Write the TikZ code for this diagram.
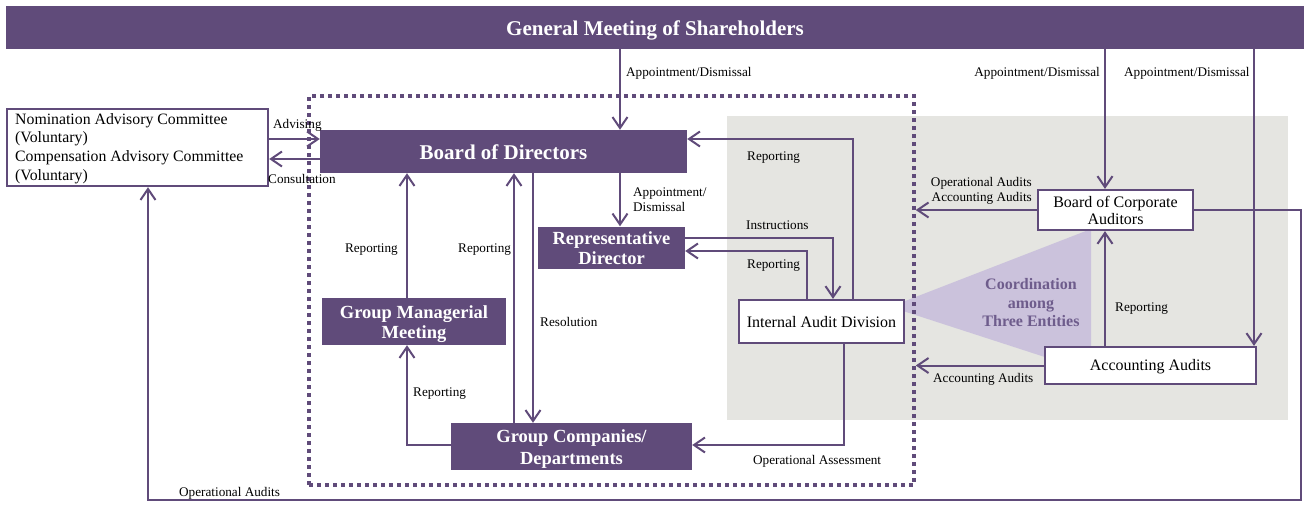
\documentclass[tikz,border=0pt]{standalone}
\usepackage{fontspec}
\setmainfont{Liberation Serif}
\usetikzlibrary{arrows.meta,calc}
\definecolor{mainp}{RGB}{96,75,122}
\definecolor{grayz}{RGB}{229,229,225}
\definecolor{trifill}{RGB}{203,194,220}
\definecolor{coordtxt}{RGB}{110,92,140}
\newcommand\fsz[2]{\fontsize{#1}{#2}\selectfont}
\begin{document}
\begin{tikzpicture}[x=1pt,y=-1pt,
 pbox/.style={fill=mainp,inner sep=0pt},
 wbox/.style={draw=mainp,line width=2.2pt,fill=white,inner sep=0pt},
 ptxt/.style={text=white,inner sep=0pt,align=center,font=\fsz{18.5}{20}\bfseries},
 wtxt/.style={inner sep=0pt,align=center,font=\fsz{16}{17.5}},
 lbl/.style={inner sep=0pt,font=\fsz{13.2}{15.5},align=left},
 conn/.style={draw=mainp,line width=2pt,-{Straight Barb[length=11pt,width=15pt,line width=2pt]}},
]
\useasboundingbox (0,0) rectangle (1304,504);

% background zone and coordination wedge
\fill[grayz] (727,116) rectangle (1288,420);
\fill[trifill] (900,303) -- (1091,229) -- (1091,372) -- (900,310) -- cycle;

% dotted frame
\node[draw=mainp,line width=3.5pt,dash pattern=on 4pt off 4pt,minimum width=605pt,minimum height=389pt,inner sep=0pt] (frame) at (611.5,290.5) {};

% boxes
\node[pbox,minimum width=1298pt,minimum height=43pt,anchor=north west] (gms) at (6,6) {};
\node[wbox,minimum width=261pt,minimum height=77pt,anchor=north west] (nom) at (6,108) {};
\node[pbox,minimum width=367pt,minimum height=43pt] (bod) at (503.5,151.5) {};
\node[pbox,minimum width=147pt,minimum height=42pt] (rep) at (611.5,247.5) {};
\node[pbox,minimum width=184pt,minimum height=47pt] (gmm) at (414,321.5) {};
\node[pbox,minimum width=241pt,minimum height=47pt] (gc) at (571.5,446.5) {};
\node[wbox,minimum width=165pt,minimum height=43pt] (iad) at (821.5,321.5) {};
\node[wbox,minimum width=155pt,minimum height=40pt] (bca) at (1115.5,210) {};
\node[wbox,minimum width=211pt,minimum height=37pt] (aa) at (1150.5,365.5) {};

% box texts
\node[ptxt,font=\fsz{21}{24}\bfseries] (gmst) at (655,30.5) {General Meeting of Shareholders};
\node[wtxt,align=left,anchor=west,font=\fsz{15.8}{18.7}] (nomt) at (15,148.5) {Nomination Advisory Committee\\(Voluntary)\\Compensation Advisory Committee\\(Voluntary)};
\node[ptxt,font=\fsz{21}{24}\bfseries] (bodt) at (503.5,152.5) {Board of Directors};
\node[ptxt] (rept) at (611.5,248.5) {Representative\\Director};
\node[ptxt] (gmmt) at (414,324.5) {Group Managerial\\Meeting};
\node[ptxt,font=\fsz{18.5}{22}\bfseries] (gct) at (571.5,449) {Group Companies/\\Departments};
\node[wtxt] (iadt) at (821.5,322.5) {Internal Audit Division};
\node[wtxt] (bcat) at (1115.5,210.5) {Board of Corporate\\Auditors};
\node[wtxt] (aat) at (1150.5,367) {Accounting Audits};
\node[align=center,inner sep=0pt,text=coordtxt,font=\fsz{16}{18.5}\bfseries] (coordn) at (1031,303) {Coordination\\among\\Three Entities};

% helper coordinates
\coordinate (c148) at (148,0);
\coordinate (c407) at (407,0);
\coordinate (c514) at (514,0);
\coordinate (c533) at (533,0);
\coordinate (c620) at (620,0);
\coordinate (c807) at (807,0);
\coordinate (c833) at (833,0);
\coordinate (c844) at (844,0);
\coordinate (c853) at (853,0);
\coordinate (c1105) at (1105,0);
\coordinate (c1254) at (1254,0);
\coordinate (y139) at (0,139);
\coordinate (y159) at (0,159);
\coordinate (y238) at (0,238);
\coordinate (y251) at (0,251);
\coordinate (y445) at (0,445);
\coordinate (corner) at (1301,500);

% connectors
\draw[conn] (gms.south -| c620) -- (bod.north -| c620);
\draw[conn] (gms.south -| c1105) -- (bca.north -| c1105);
\draw[conn] (gms.south -| c1254) -- (aa.north -| c1254);
\draw[conn] (nom.east |- y139) -- (bod.west |- y139);
\draw[conn] (bod.west |- y159) -- (nom.east |- y159);
\draw[conn] (bod.south -| c620) -- (rep.north -| c620);
\draw[conn] (gmm.north -| c407) -- (bod.south -| c407);
\draw[conn] (gc.north -| c514) -- (bod.south -| c514);
\draw[conn] (bod.south -| c533) -- (gc.north -| c533);
\draw[conn] (gc.west |- y445) -| (gmm.south -| c407);
\draw[conn] (iad.north -| c853) |- (bod.east |- y139);
\draw[conn] (rep.east |- y238) -| (iad.north -| c833);
\draw[conn] (iad.north -| c807) |- (rep.east |- y251);
\draw[conn] (iad.south -| c844) |- (gc.east |- y445);
\draw[conn] (bca.west) -- (frame.east |- bca.west);
\draw[conn] (aa.north -| c1105) -- (bca.south -| c1105);
\draw[conn] (aa.west) -- (frame.east |- aa.west);
\draw[conn] (bca.east) -| (corner) -| (nom.south -| c148);

% labels
\node[lbl,anchor=west] (l1) at (626,73) {Appointment/Dismissal};
\node[lbl,anchor=east] (l2) at (1100,73) {Appointment/Dismissal};
\node[lbl,anchor=west] (l3) at (1124,73) {Appointment/Dismissal};
\node[lbl,anchor=west] (l4) at (273,125.5) {Advising};
\node[lbl,anchor=west] (l5) at (268,178.5) {Consultation};
\node[lbl,anchor=west,font=\fsz{13.2}{15}] (l6) at (633,199.5) {Appointment/\\Dismissal};
\node[lbl,anchor=east] (l7) at (398,249.5) {Reporting};
\node[lbl,anchor=west] (l8) at (458,249.5) {Reporting};
\node[lbl,anchor=west] (l9) at (540,321.5) {Resolution};
\node[lbl,anchor=west] (l10) at (413,393.5) {Reporting};
\node[lbl,anchor=west] (l11) at (747,157.5) {Reporting};
\node[lbl,anchor=west] (l12) at (746,225.5) {Instructions};
\node[lbl,anchor=west] (l13) at (747,265.5) {Reporting};
\node[lbl,anchor=west] (l14) at (753,461.5) {Operational Assessment};
\node[lbl,anchor=east,align=right] (l15) at (1032,191) {Operational Audits\\Accounting Audits};
\node[lbl,anchor=west] (l16) at (933,379.5) {Accounting Audits};
\node[lbl,anchor=west] (l17) at (1115,308.5) {Reporting};
\node[lbl,anchor=west] (l18) at (179,493.5) {Operational Audits};
\end{tikzpicture}
\end{document}
